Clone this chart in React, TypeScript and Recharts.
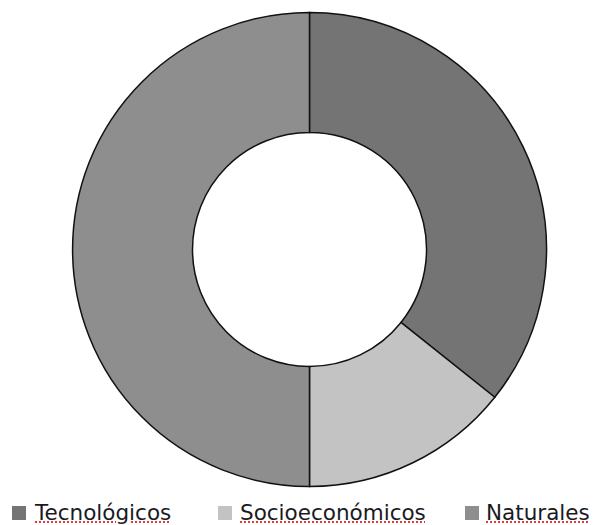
import { PieChart, Pie, Cell, Legend } from 'recharts'

const categories = ['Tecnológicos', 'Socioeconómicos', 'Naturales']
const values = [5, 2, 7]
const colors = ['#747474', '#c3c3c3', '#8e8e8e']

const data = categories.map((name, i) => ({ name, value: values[i] }))

// legend item x positions: square, then label
const squareX = [12, 218, 465]
const labelX = [35, 240, 486]

function RiskLegend() {
  return (
    <div style={{ position: 'relative', width: 593, height: 525 }}>
      {categories.map((name, i) => (
        <div key={name}>
          <div
            style={{
              position: 'absolute',
              left: squareX[i],
              top: 506,
              width: 14,
              height: 14,
              background: colors[i],
            }}
          />
          <span
            style={{
              position: 'absolute',
              left: labelX[i],
              top: 502,
              fontFamily: '"DejaVu Sans", sans-serif',
              fontSize: 21.5,
              lineHeight: 1,
              color: '#1a1a22',
              whiteSpace: 'nowrap',
              textDecorationLine: 'underline',
              textDecorationStyle: 'dotted',
              textDecorationColor: '#e03a3a',
              textDecorationThickness: 1.5,
              textUnderlineOffset: 1,
            }}
          >
            {name}
          </span>
        </div>
      ))}
    </div>
  )
}

export default function App() {
  return (
    <div style={{ position: 'absolute', left: 0, top: 0, width: 593, height: 525, background: '#fff' }}>
      <PieChart width={593} height={525} margin={{ top: 0, right: 0, bottom: 0, left: 0 }}>
        <Pie
          data={data}
          dataKey="value"
          nameKey="name"
          cx={309.5}
          cy={249.5}
          innerRadius={117}
          outerRadius={237}
          startAngle={90}
          endAngle={-270}
          stroke="#111"
          strokeWidth={1.5}
          isAnimationActive={false}
        >
          {data.map((d, i) => (
            <Cell key={d.name} fill={colors[i]} />
          ))}
        </Pie>
        <Legend
          content={() => <RiskLegend />}
          wrapperStyle={{ left: 0, top: 0, width: 593, height: 525, pointerEvents: 'none' }}
        />
      </PieChart>
    </div>
  )
}
